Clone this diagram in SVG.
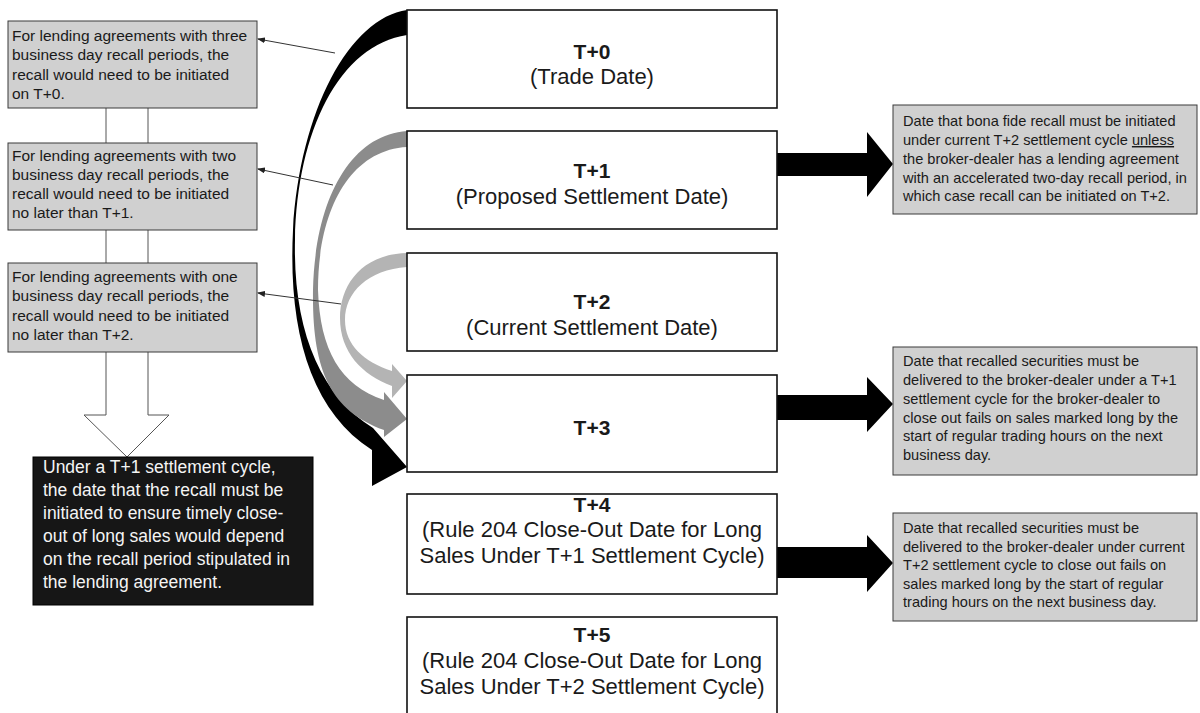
<svg xmlns="http://www.w3.org/2000/svg" width="1200" height="713" viewBox="0 0 1200 713">
<style>
.bg{fill:#ffffff}
.note{fill:#d0d0d0;stroke:#3a3a3a;stroke-width:1}
.day{fill:#ffffff;stroke:#111111;stroke-width:1.6}
.dark{fill:#161616;stroke:#000000;stroke-width:1}
.t{font-family:"Liberation Sans",Arial,sans-serif;fill:#1a1a1a}
.ln{font-size:15.5px}
.rn{font-size:14.6px}
.bk{font-size:17.5px;fill:#f4f4f4}
.c{font-size:22px;text-anchor:middle}
.b{font-weight:bold;font-size:21px}
.thin{fill:none;stroke:#333333;stroke-width:1;marker-end:url(#ah)}
.blk{fill:#000000}
</style>
<defs>
<marker id="ah" markerWidth="8" markerHeight="6" refX="7" refY="3" orient="auto" markerUnits="userSpaceOnUse">
<path d="M0,0 L8,3 L0,6 Z" fill="#222222"/>
</marker>
</defs>
<rect class="bg" x="0" y="0" width="1200" height="713"/>
<g id="connectors">
<path id="down-arrow" d="M106,60 L106,415 L84,415 L127,457 L169,415 L148,415 L148,60 Z" fill="#ffffff" stroke="#555555" stroke-width="1"/>
<path id="curve-t0-t3" class="blk" d="M407,10 C350,18 300,110 293,230 C288,330 310,410 372,450 L372,486 L407,467 L373,428 C320,395 293,330 295,240 C297,130 340,45 407,35 Z"/>
<path id="curve-t1-t3" fill="#8c8c8c" d="M407,131 C350,135 315,200 313,290 C312,370 330,410 384,430 L384,437 L407,419 L384,392 L384,400 C340,385 320,350 318,290 C318,210 350,150 407,147 Z"/>
<path id="curve-t2-t3" fill="#b4b4b4" d="M407,253 C362,254 340,285 340,318 C340,352 362,375 392,386 L392,398 L407,381 L392,364 L392,371 C364,362 345,345 345,320 C345,292 368,270 407,267 Z"/>
<line class="thin" x1="335" y1="53" x2="258" y2="39"/>
<line class="thin" x1="333" y1="185" x2="258" y2="169"/>
<line class="thin" x1="341" y1="304" x2="258" y2="293"/>
<path id="arrow-t1" class="blk" d="M777,153 L867,153 L867,132 L893,164 L867,197 L867,176 L777,176 Z"/>
<path id="arrow-t3" class="blk" d="M777,395 L867,395 L867,377 L893,404 L867,432 L867,420 L777,420 Z"/>
<path id="arrow-t4" class="blk" d="M777,547 L867,547 L867,535 L893,563 L867,592 L867,578 L777,578 Z"/>
</g>
<g id="note-three-day">
<rect class="note" x="8" y="21" width="249" height="87"/>
<text class="t ln" x="12" y="41">For lending agreements with three</text>
<text class="t ln" x="12" y="60">business day recall periods, the</text>
<text class="t ln" x="12" y="80">recall would need to be initiated</text>
<text class="t ln" x="12" y="99">on T+0.</text>
</g>
<g id="note-two-day">
<rect class="note" x="8" y="143" width="249" height="87"/>
<text class="t ln" x="12" y="161">For lending agreements with two</text>
<text class="t ln" x="12" y="180">business day recall periods, the</text>
<text class="t ln" x="12" y="199">recall would need to be initiated</text>
<text class="t ln" x="12" y="218">no later than T+1.</text>
</g>
<g id="note-one-day">
<rect class="note" x="8" y="263" width="249" height="89"/>
<text class="t ln" x="12" y="282">For lending agreements with one</text>
<text class="t ln" x="12" y="301">business day recall periods, the</text>
<text class="t ln" x="12" y="321">recall would need to be initiated</text>
<text class="t ln" x="12" y="340">no later than T+2.</text>
</g>
<g id="summary">
<rect class="dark" x="33" y="457" width="280" height="148"/>
<text class="t bk" x="43" y="473">Under a T+1 settlement cycle,</text>
<text class="t bk" x="43" y="496">the date that the recall must be</text>
<text class="t bk" x="43" y="519">initiated to ensure timely close-</text>
<text class="t bk" x="43" y="542">out of long sales would depend</text>
<text class="t bk" x="43" y="565">on the recall period stipulated in</text>
<text class="t bk" x="43" y="588">the lending agreement.</text>
</g>
<g id="t0">
<rect class="day" x="407" y="10" width="370" height="98"/>
<text class="t c b" x="592" y="59">T+0</text>
<text class="t c" x="592" y="84">(Trade Date)</text>
</g>
<g id="t1">
<rect class="day" x="407" y="131" width="370" height="98"/>
<text class="t c b" x="592" y="178">T+1</text>
<text class="t c" x="592" y="204">(Proposed Settlement Date)</text>
</g>
<g id="t2">
<rect class="day" x="407" y="253" width="370" height="98"/>
<text class="t c b" x="592" y="309">T+2</text>
<text class="t c" x="592" y="335">(Current Settlement Date)</text>
</g>
<g id="t3">
<rect class="day" x="407" y="375" width="370" height="97"/>
<text class="t c b" x="592" y="435">T+3</text>
</g>
<g id="t4">
<rect class="day" x="407" y="494" width="370" height="100"/>
<text class="t c b" x="592" y="512">T+4</text>
<text class="t c" x="592" y="537">(Rule 204 Close-Out Date for Long</text>
<text class="t c" x="592" y="563">Sales Under T+1 Settlement Cycle)</text>
</g>
<g id="t5">
<rect class="day" x="407" y="617" width="370" height="100"/>
<text class="t c b" x="592" y="642">T+5</text>
<text class="t c" x="592" y="668">(Rule 204 Close-Out Date for Long</text>
<text class="t c" x="592" y="694">Sales Under T+2 Settlement Cycle)</text>
</g>
<g id="note-t1">
<rect class="note" x="893" y="105" width="304" height="109"/>
<text class="t rn" x="903" y="126">Date that bona fide recall must be initiated</text>
<text class="t rn" x="903" y="145">under current T+2 settlement cycle <tspan text-decoration="underline">unless</tspan></text>
<text class="t rn" x="903" y="164">the broker-dealer has a lending agreement</text>
<text class="t rn" x="903" y="183">with an accelerated two-day recall period, in</text>
<text class="t rn" x="903" y="201">which case recall can be initiated on T+2.</text>
</g>
<g id="note-t3">
<rect class="note" x="893" y="347" width="304" height="128"/>
<text class="t rn" x="903" y="366">Date that recalled securities must be</text>
<text class="t rn" x="903" y="385">delivered to the broker-dealer under a T+1</text>
<text class="t rn" x="903" y="404">settlement cycle for the broker-dealer to</text>
<text class="t rn" x="903" y="423">close out fails on sales marked long by the</text>
<text class="t rn" x="903" y="441">start of regular trading hours on the next</text>
<text class="t rn" x="903" y="460">business day.</text>
</g>
<g id="note-t4">
<rect class="note" x="893" y="513" width="304" height="108"/>
<text class="t rn" x="903" y="533">Date that recalled securities must be</text>
<text class="t rn" x="903" y="552">delivered to the broker-dealer under current</text>
<text class="t rn" x="903" y="570">T+2 settlement cycle to close out fails on</text>
<text class="t rn" x="903" y="589">sales marked long by the start of regular</text>
<text class="t rn" x="903" y="607">trading hours on the next business day.</text>
</g>
</svg>
